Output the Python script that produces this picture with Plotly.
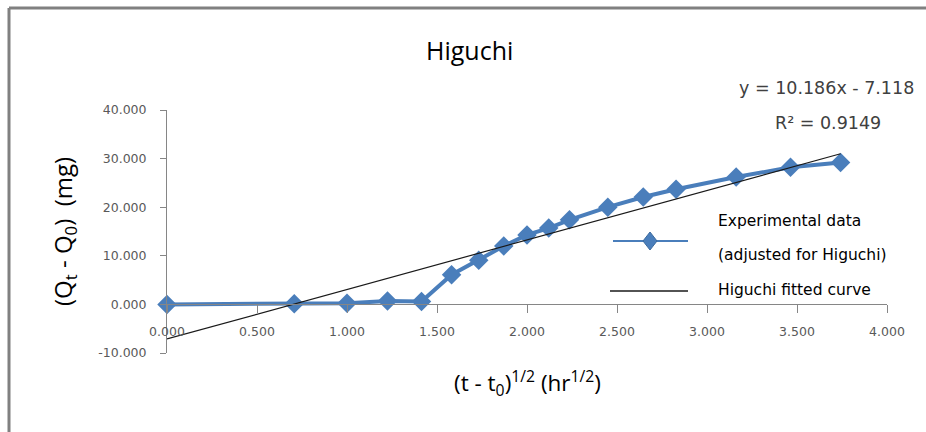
import plotly.graph_objects as go

# ---- data ----
sqrt_time = [0.000, 0.707, 1.000, 1.225, 1.414, 1.581, 1.732, 1.871, 2.000,
             2.121, 2.236, 2.449, 2.646, 2.828, 3.162, 3.464, 3.742]
released = [0.0, 0.15, 0.25, 0.7, 0.6, 6.1, 9.1, 12.0, 14.3,
            15.7, 17.4, 20.0, 22.1, 23.7, 26.2, 28.2, 29.2]
fit_slope = 10.186
fit_intercept = -7.118
fit_r2 = 0.9149
fit_x = [0.000, 3.742]
fit_y = [fit_slope * x + fit_intercept for x in fit_x]

x_ticks = [0.0, 0.5, 1.0, 1.5, 2.0, 2.5, 3.0, 3.5, 4.0]
y_ticks = [-10, 0, 10, 20, 30, 40]
x_ticktext = ["{:.3f}".format(v) for v in x_ticks]
y_ticktext = ["{:.3f}".format(v) for v in y_ticks]

# ---- layout geometry ----
W, H = 926, 432
L, R, T, B = 167, 39, 110, 79
PW, PH = W - L - R, H - T - B
BOTTOM = H - B


def px(x):
    return (x - L) / PW


def py(y):
    return (BOTTOM - y) / PH


FONT = "Open Sans"
FONT2 = "DejaVu Sans"
BLUE = "#4A7EBB"
AXIS = "#868686"
TICK = "#595959"

fig = go.Figure()
fig.add_trace(go.Scatter(
    x=sqrt_time, y=released, mode="lines+markers",
    line=dict(color=BLUE, width=4),
    marker=dict(symbol="diamond", size=15, color=BLUE),
    cliponaxis=False, showlegend=False,
    name="Experimental data (adjusted for Higuchi)"))
fig.add_trace(go.Scatter(
    x=fit_x, y=fit_y, mode="lines",
    line=dict(color="#1a1a1a", width=1.2),
    cliponaxis=False, showlegend=False, name="Higuchi fitted curve"))

ann = []
ann.append(dict(text="Higuchi", x=px(469), y=py(50), xref="paper", yref="paper",
                showarrow=False, font=dict(family=FONT, size=25, color="#000000"),
                xanchor="center", yanchor="middle"))
ann.append(dict(text="y = 10.186x - 7.118", x=px(826), y=py(88), xref="paper", yref="paper",
                showarrow=False, font=dict(family=FONT2, size=17.5, color="#404040"),
                xanchor="center", yanchor="middle"))
ann.append(dict(text="R² = 0.9149", x=px(828), y=py(123), xref="paper", yref="paper",
                showarrow=False, font=dict(family=FONT2, size=17.5, color="#404040"),
                xanchor="center", yanchor="middle"))
ann.append(dict(text="(Q<sub>t</sub>&nbsp;-&nbsp;Q<sub>0</sub>)&nbsp;&nbsp;(mg)", x=px(64), y=py(232),
                xref="paper", yref="paper", textangle=-90,
                showarrow=False, font=dict(family=FONT, size=24, color="#000000"),
                xanchor="center", yanchor="middle"))
ann.append(dict(text="(t - t<sub>0</sub>)<sup>1/2</sup> (hr<sup>1/2</sup>)", x=px(527), y=py(383),
                xref="paper", yref="paper",
                showarrow=False, font=dict(family=FONT, size=22.5, color="#000000"),
                xanchor="center", yanchor="middle"))
# manual legend text
for txt, yy in [("Experimental data", 221), ("(adjusted for Higuchi)", 255), ("Higuchi fitted curve", 290)]:
    ann.append(dict(text=txt, x=px(716), y=py(yy), xref="paper", yref="paper",
                    showarrow=False, font=dict(family=FONT2, size=15.5, color="#000000"),
                    xanchor="left", yanchor="middle"))

shapes = []
# chart border (top & left visible)
shapes.append(dict(type="line", xref="paper", yref="paper", x0=px(9), x1=px(926),
                   y0=py(8), y1=py(8), line=dict(color="#808080", width=3)))
shapes.append(dict(type="line", xref="paper", yref="paper", x0=px(9), x1=px(9),
                   y0=py(8), y1=py(432), line=dict(color="#808080", width=3)))
# legend samples
shapes.append(dict(type="line", xref="paper", yref="paper", x0=px(613), x1=px(688),
                   y0=py(241), y1=py(241), line=dict(color=BLUE, width=2)))
cx, cy = 650, 241
path = "M {} {} L {} {} L {} {} L {} {} Z".format(
    px(cx - 7), py(cy), px(cx), py(cy - 9), px(cx + 7), py(cy), px(cx), py(cy + 9))
shapes.append(dict(type="path", xref="paper", yref="paper", path=path,
                   fillcolor=BLUE, line=dict(color="#3B6A9E", width=1)))
shapes.append(dict(type="line", xref="paper", yref="paper", x0=px(610), x1=px(688),
                   y0=py(291), y1=py(291), line=dict(color="#1a1a1a", width=1.3)))

fig.update_layout(
    width=W, height=H,
    margin=dict(l=L, r=R, t=T, b=B, pad=0),
    paper_bgcolor="white", plot_bgcolor="white",
    annotations=ann, shapes=shapes, showlegend=False,
    xaxis=dict(range=[0, 4], tickvals=x_ticks, ticktext=x_ticktext,
               anchor="free", position=0.2,
               showline=True, linecolor=AXIS, linewidth=1,
               ticks="outside", ticklen=8, tickcolor=AXIS,
               ticklabelstandoff=8,
               showgrid=False, zeroline=False,
               tickfont=dict(family=FONT2, size=12.5, color=TICK), automargin=False),
    yaxis=dict(range=[-10, 40], tickvals=y_ticks, ticktext=y_ticktext,
               showline=True, linecolor=AXIS, linewidth=1,
               ticks="outside", ticklen=6, tickcolor=AXIS,
               ticklabelstandoff=11,
               showgrid=False, zeroline=False,
               tickfont=dict(family=FONT2, size=12.5, color=TICK), automargin=False),
)

fig.write_html("out.html")
